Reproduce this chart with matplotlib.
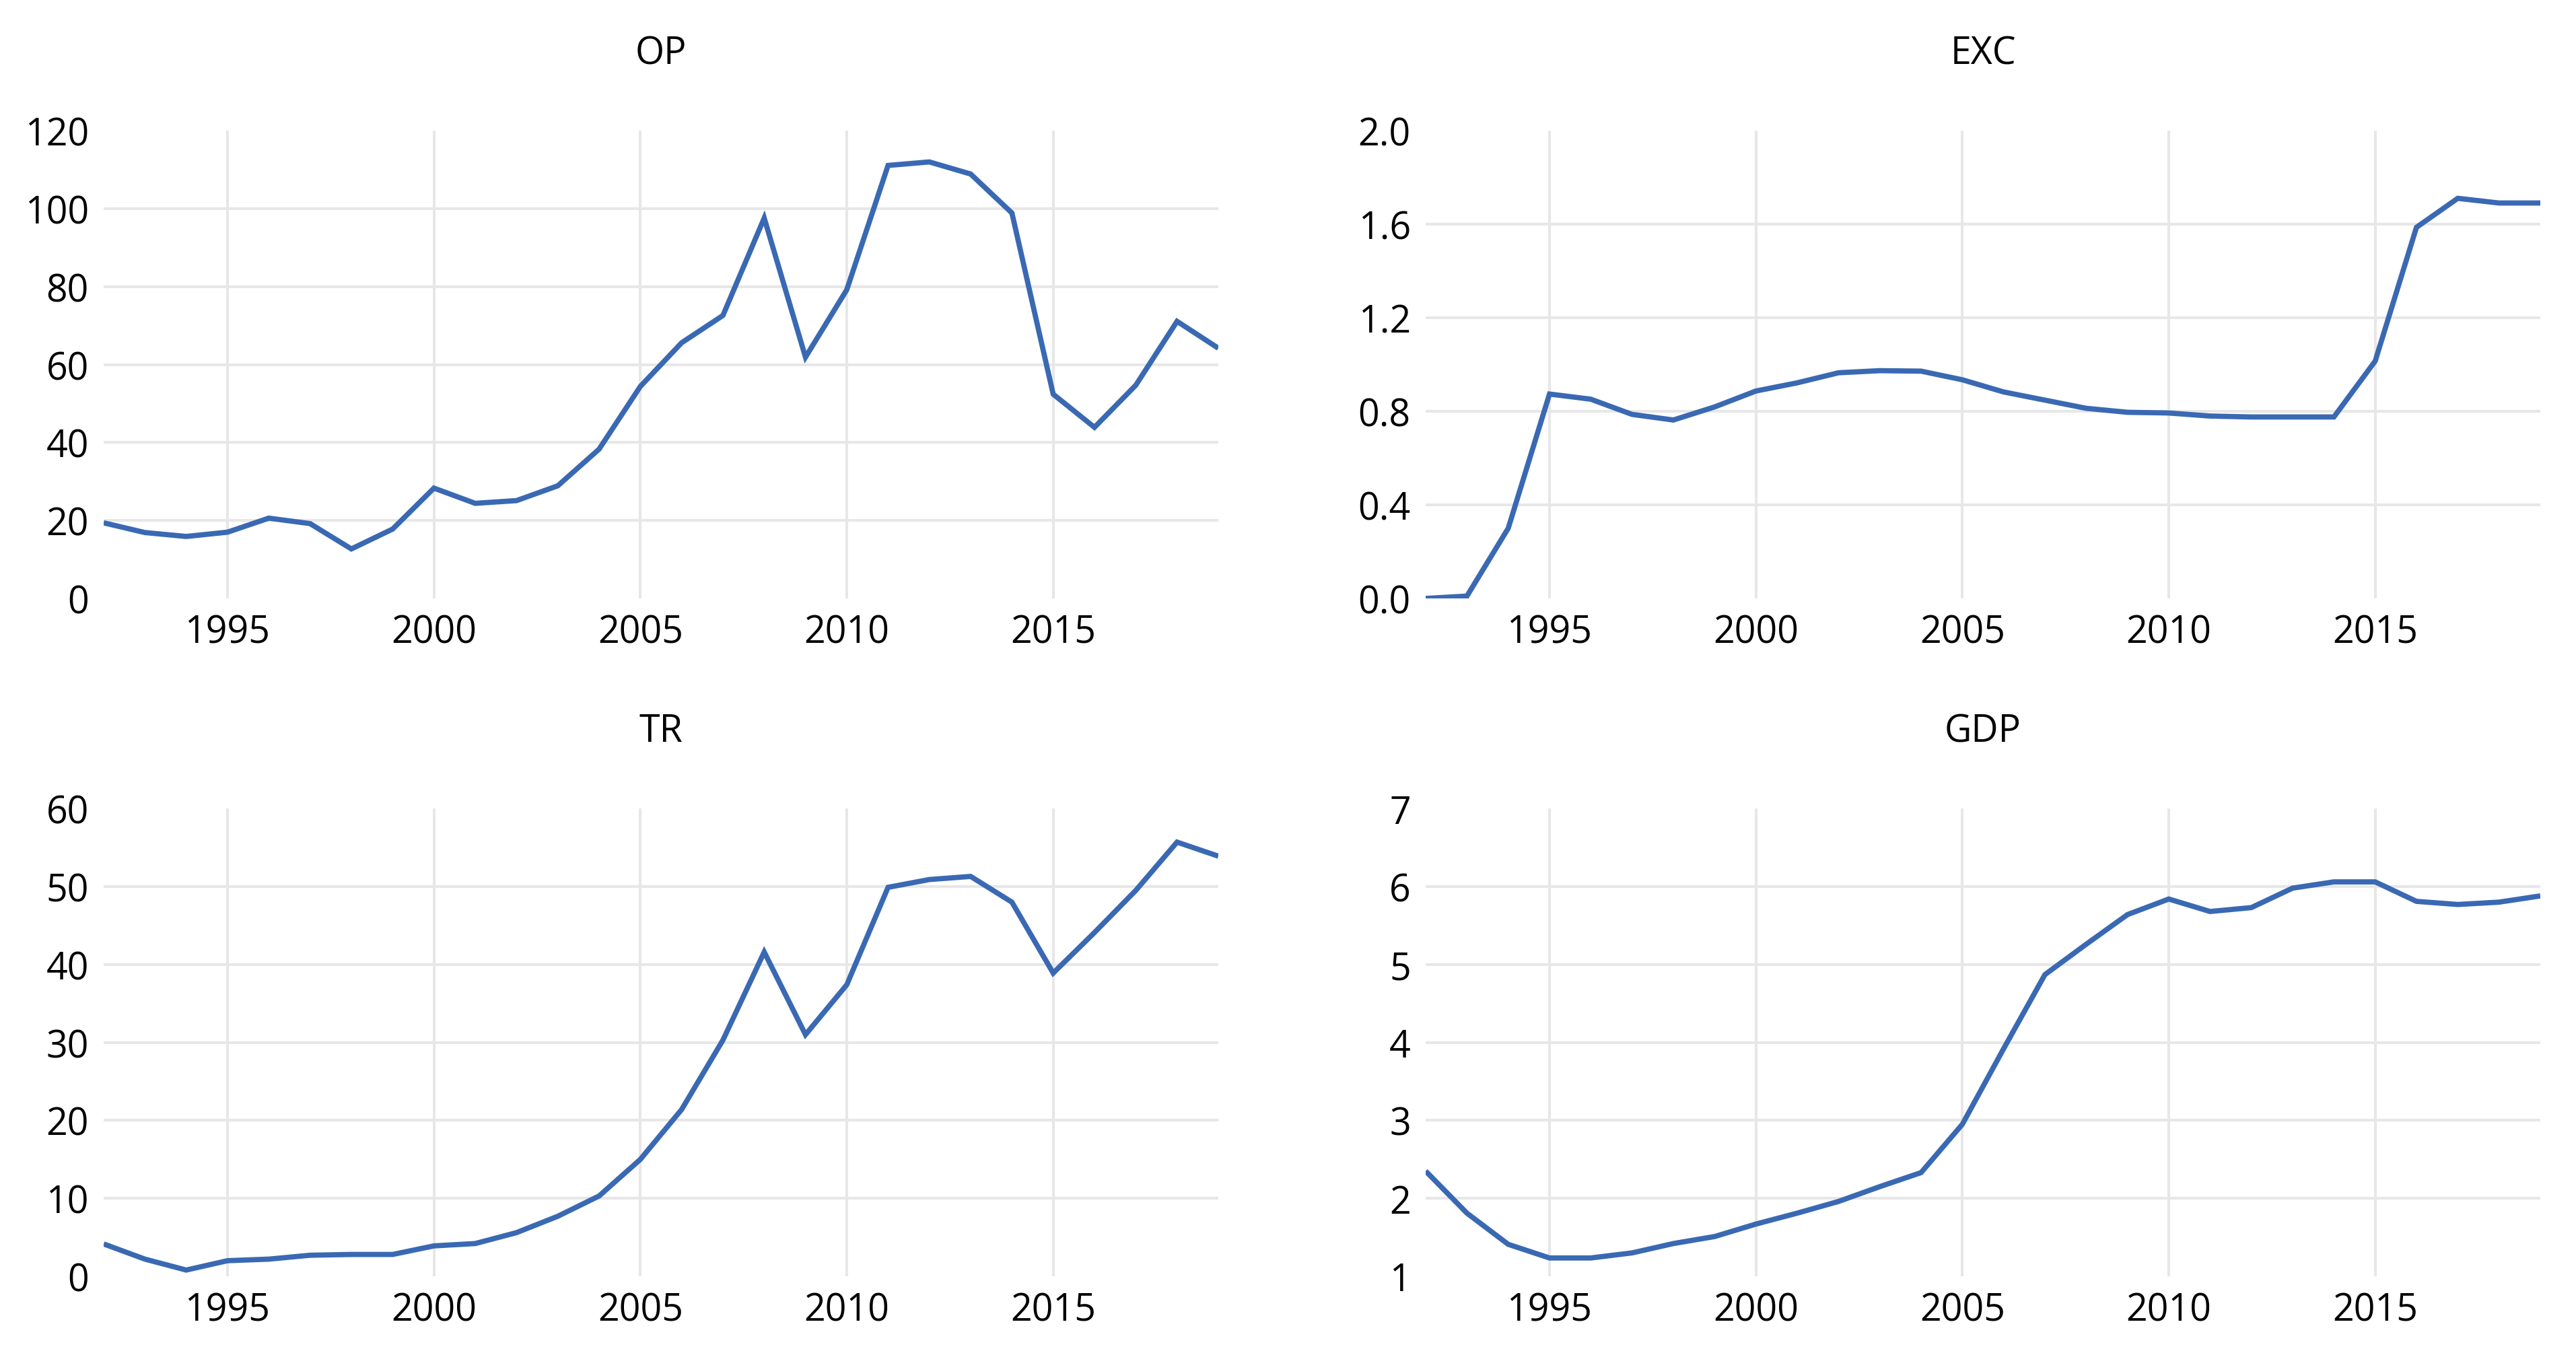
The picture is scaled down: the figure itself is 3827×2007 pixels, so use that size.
import matplotlib
matplotlib.use("Agg")
import matplotlib.pyplot as plt
import numpy as np

years = list(range(1992, 2020))

op = [19.4, 16.9, 15.9, 17.0, 20.6, 19.2, 12.7, 17.8, 28.3, 24.4, 25.1, 28.9, 38.3,
      54.4, 65.6, 72.6, 97.6, 61.9, 79.2, 111.1, 112.0, 108.9, 98.9, 52.4, 43.9,
      54.7, 71.1, 64.2]
exc = [0.0, 0.01, 0.30, 0.874, 0.852, 0.787, 0.763, 0.819, 0.887, 0.922, 0.965,
       0.974, 0.972, 0.935, 0.883, 0.848, 0.813, 0.796, 0.793, 0.780, 0.776, 0.776,
       0.776, 1.015, 1.587, 1.711, 1.691, 1.691]
tr = [4.15, 2.2, 0.8, 2.0, 2.2, 2.7, 2.8, 2.8, 3.9, 4.2, 5.6, 7.7, 10.3, 15.0,
      21.4, 30.3, 41.6, 31.0, 37.4, 49.9, 50.9, 51.3, 48.0, 38.9, 44.1, 49.5,
      55.7, 53.9]
gdp = [2.35, 1.81, 1.41, 1.235, 1.235, 1.30, 1.42, 1.51, 1.67, 1.81, 1.96, 2.15,
       2.33, 2.95, 3.92, 4.87, 5.26, 5.64, 5.84, 5.68, 5.73, 5.98, 6.06, 6.06,
       5.81, 5.77, 5.80, 5.88]

titles = ["OP", "EXC", "TR", "GDP"]
series = [op, exc, tr, gdp]
yticks = [
    [0, 20, 40, 60, 80, 100, 120],
    [0.0, 0.4, 0.8, 1.2, 1.6, 2.0],
    [0, 10, 20, 30, 40, 50, 60],
    [1, 2, 3, 4, 5, 6, 7],
]
ylabels = [
    ["0", "20", "40", "60", "80", "100", "120"],
    ["0.0", "0.4", "0.8", "1.2", "1.6", "2.0"],
    ["0", "10", "20", "30", "40", "50", "60"],
    ["1", "2", "3", "4", "5", "6", "7"],
]
xticks = [1995, 2000, 2005, 2010, 2015]

plt.rcParams['font.family'] = ['Open Sans', 'DejaVu Sans']

fig = plt.figure(figsize=(38.27, 20.08), dpi=100)
W = 1656 / 3827
H = 0.346
positions = [
    (154 / 3827, 1 - 890 / 2008, W, H),
    (2118 / 3827, 1 - 890 / 2008, W, H),
    (154 / 3827, 1 - 1897 / 2008, W, H),
    (2118 / 3827, 1 - 1897 / 2008, W, H),
]

line_color = "#3a69b3"
grid_color = "#e7e7e7"
fs = 40

for pos, title, vals, yt, yl in zip(positions, titles, series, yticks, ylabels):
    ax = fig.add_axes(pos)
    ax.plot(years, vals, color=line_color, lw=5.6, solid_joinstyle='miter',
            solid_capstyle='butt', zorder=3)
    ax.set_xlim(1992, 2019)
    ax.set_ylim(yt[0], yt[-1])
    ax.set_xticks(xticks)
    ax.set_xticklabels([str(x) for x in xticks])
    ax.set_yticks(yt)
    ax.set_yticklabels(yl)
    for s in ax.spines.values():
        s.set_visible(False)
    ax.tick_params(axis='both', length=0, labelsize=fs, colors='black')
    ax.tick_params(axis='y', pad=16)
    ax.tick_params(axis='x', pad=16)
    ax.grid(True, color=grid_color, lw=2.9, zorder=0)
    ax.set_axisbelow(True)
    ygl = ax.get_ygridlines()
    ygl[0].set_visible(False)
    ygl[-1].set_visible(False)
    ax.set_title(title, fontsize=fs, pad=72, color='black')

fig.savefig("out.png", dpi=100, facecolor='white')
